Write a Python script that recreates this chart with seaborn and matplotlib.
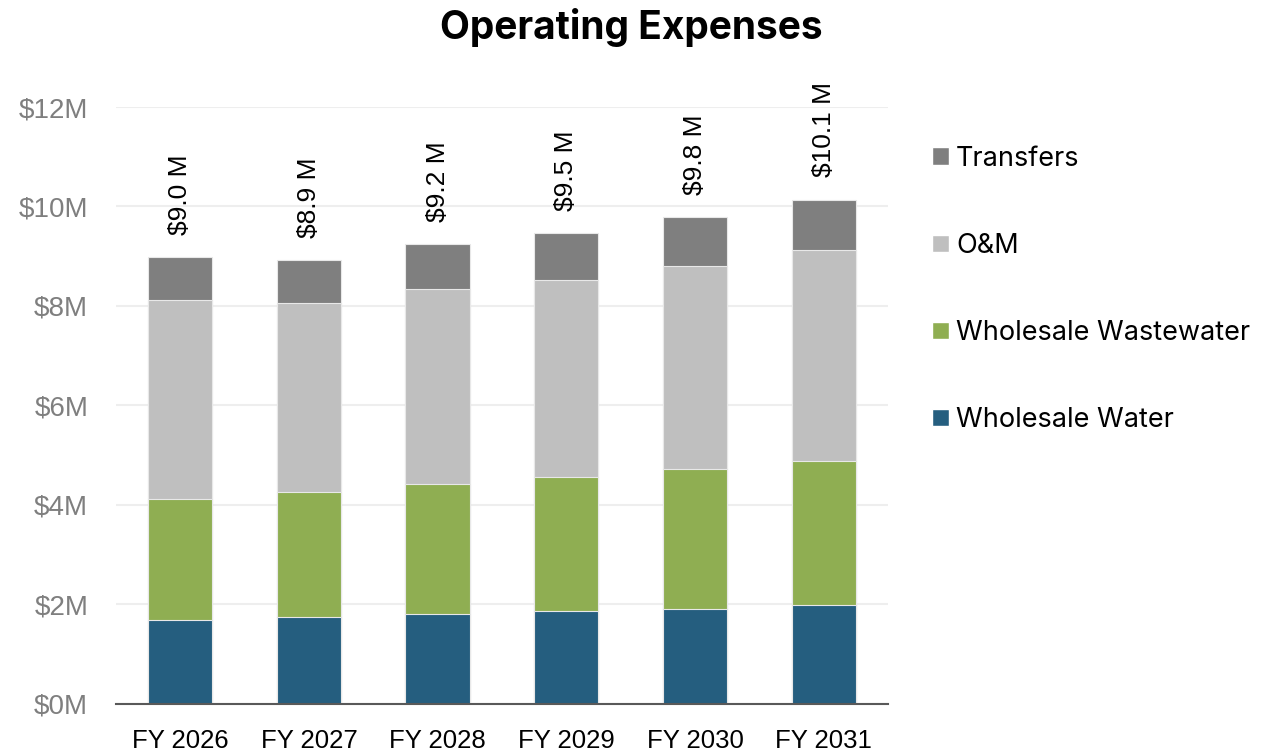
import numpy as np
import pandas as pd
import seaborn as sns
import matplotlib.pyplot as plt
from matplotlib.patches import Patch

# Veriler (milyon $)
years = ["FY 2026", "FY 2027", "FY 2028", "FY 2029", "FY 2030", "FY 2031"]
wholesale_water = [1.68, 1.74, 1.80, 1.86, 1.91, 1.98]
wholesale_wastewater = [2.44, 2.52, 2.63, 2.71, 2.82, 2.91]
om = [4.00, 3.81, 3.91, 3.95, 4.08, 4.23]
transfers = [0.87, 0.86, 0.90, 0.94, 0.98, 1.02]
total_labels = ["$9.0 M", "$8.9 M", "$9.2 M", "$9.5 M", "$9.8 M", "$10.1 M"]

series = ["Wholesale Water", "Wholesale Wastewater", "O&M", "Transfers"]
colors = ["#255E7F", "#8FAE52", "#BFBFBF", "#7F7F7F"]

df = pd.DataFrame({
    "year": years,
    "Wholesale Water": wholesale_water,
    "Wholesale Wastewater": wholesale_wastewater,
    "O&M": om,
    "Transfers": transfers,
})
cum = df[series].cumsum(axis=1)

sns.set_style("white")
plt.rcParams['font.family'] = ['Liberation Sans', 'DejaVu Sans']
plt.rcParams['text.color'] = 'black'

fig = plt.figure(figsize=(12.63, 7.53), dpi=100)
ax = fig.add_axes([0.0918, 0.0651, 0.6113, 0.7928])

# Yığılmış çubuklar: üstten alta doğru kümülatif toplamlar
for name, col in zip(series[::-1], colors[::-1]):
    sns.barplot(x=df["year"], y=cum[name], color=col, width=0.5, saturation=1,
                edgecolor="#E8E8E8", linewidth=0.8, ax=ax, zorder=3)

ax.set_ylim(0, 12)
ax.set_yticks(np.arange(0, 13, 2))
ax.set_yticklabels([f"${v}M" for v in range(0, 13, 2)], color="#7F7F7F", fontsize=20)
ax.tick_params(axis="x", labelsize=18.5, colors="black", length=0, pad=18)
ax.tick_params(axis="y", length=0, pad=20)
ax.set_xlabel("")
ax.set_ylabel("")
ax.yaxis.grid(True, color="#EEEEEE", linewidth=1.5, zorder=0)
ax.set_axisbelow(True)
for s in ["top", "right", "left"]:
    ax.spines[s].set_visible(False)
ax.spines["bottom"].set_color("#595959")
ax.spines["bottom"].set_linewidth(1.5)
ax.spines["bottom"].set_zorder(4)

# Toplam etiketleri
totals = cum["Transfers"].values
for i, (t, lab) in enumerate(zip(totals, total_labels)):
    ax.annotate(lab, (i, t), xytext=(0, 16), textcoords="offset points",
                rotation=90, ha="center", va="bottom", fontsize=19, color="black")

fig.suptitle("Operating Expenses", x=0.5, y=0.99, fontsize=28, color="black",
             fontweight="bold", family=["Inter", "DejaVu Sans"])

handles = [Patch(facecolor=c, label=n) for n, c in zip(series[::-1], colors[::-1])]
leg = fig.legend(handles=handles, loc="upper left", bbox_to_anchor=(0.719, 0.839),
                 frameon=False, handlelength=0.62, handleheight=0.62,
                 handletextpad=0.25, labelspacing=2.26,
                 prop={"family": ["Inter", "DejaVu Sans"], "size": 19.5})
for t in leg.get_texts():
    t.set_color("black")

fig.savefig("out.png", dpi=100)
